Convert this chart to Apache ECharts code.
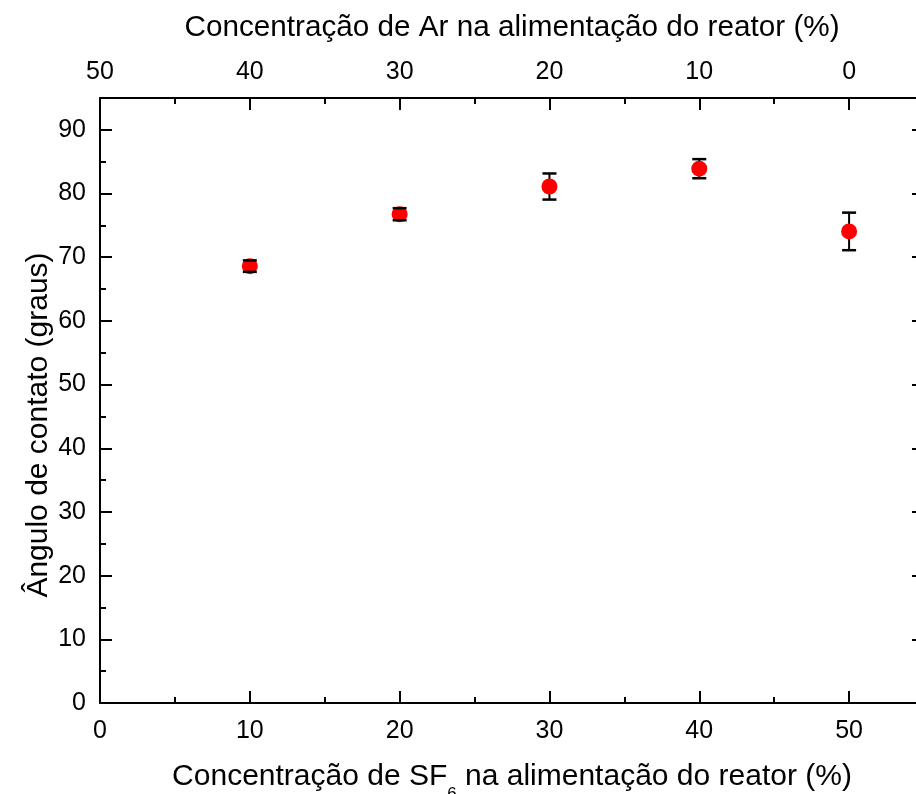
<!DOCTYPE html>
<html>
<head>
<meta charset="utf-8">
<script src="https://cdn.jsdelivr.net/npm/echarts@6/dist/echarts.min.js"></script>
<style>html,body{margin:0;padding:0;background:#fff}#c{width:916px;height:794px}</style>
</head>
<body>
<div id="c"></div>
<script>
// data
const sf6Conc = [10, 20, 30, 40, 50];
const contactAngle = [68.6, 76.75, 81.1, 83.9, 74.05];
const angleErr = [0.9, 0.95, 2.05, 1.5, 2.95];
const bottomTitle = 'Concentração de SF{s|6} na alimentação do reator (%)';
const topTitle = 'Concentração de Ar na alimentação do reator (%)';
const yTitle = 'Ângulo de contato (graus)';
const arTotal = 50; // Ar % = 50 - SF6 %

const pts = sf6Conc.map((x, i) => [x, contactAngle[i], angleErr[i]]);
const FONT = '"Liberation Sans", Arial, sans-serif';

const chart = echarts.init(document.getElementById('c'), null, {renderer: 'canvas'});

function stem(params, api) {
  const x = api.value(0), y = api.value(1), e = api.value(2);
  const p1 = api.coord([x, y + e]), p2 = api.coord([x, y - e]);
  return {type: 'line', shape: {x1: p1[0], y1: p1[1], x2: p2[0], y2: p2[1]},
    style: {stroke: '#000', lineWidth: 2}};
}
function caps(params, api) {
  const x = api.value(0), y = api.value(1), e = api.value(2);
  const p1 = api.coord([x, y + e]), p2 = api.coord([x, y - e]);
  const w = 7;
  return {type: 'group', children: [
    {type: 'line', shape: {x1: p1[0] - w, y1: p1[1], x2: p1[0] + w, y2: p1[1]}, style: {stroke: '#000', lineWidth: 2.5}},
    {type: 'line', shape: {x1: p2[0] - w, y1: p2[1], x2: p2[0] + w, y2: p2[1]}, style: {stroke: '#000', lineWidth: 2.5}}
  ]};
}

const axisCommon = {
  type: 'value', min: 0,
  axisLine: {show: true, onZero: false, lineStyle: {color: '#000', width: 2}},
  axisTick: {show: true, inside: true, length: 12, lineStyle: {color: '#000', width: 2}},
  minorTick: {show: true, splitNumber: 2, length: 6, lineStyle: {color: '#000', width: 2}},
  splitLine: {show: false},
  interval: 10
};

chart.setOption({
  animation: false,
  backgroundColor: '#fff',
  grid: {left: 100, right: -8, top: 98, bottom: 91, containLabel: false, outerBoundsMode: 'none'},
  graphic: [{
    type: 'text', x: 39, y: 425, rotation: Math.PI / 2, silent: true,
    style: {text: yTitle, fill: '#000', fontSize: 30, fontFamily: FONT, align: 'center', verticalAlign: 'middle'}
  }],
  xAxis: [
    Object.assign({}, axisCommon, {
      position: 'bottom', max: 55,
      axisLabel: {show: true, color: '#000', fontSize: 25, fontFamily: FONT, margin: 16,
        formatter: v => v > 50 ? '' : String(v)},
      name: bottomTitle, nameLocation: 'middle', nameGap: 47,
      nameTextStyle: {color: '#000', fontSize: 30, fontFamily: FONT,
        rich: {s: {fontSize: 17, fontFamily: FONT, color: '#000', padding: [36, 0, 0, 0]}}}
    }),
    Object.assign({}, axisCommon, {
      position: 'top', max: 55,
      axisLabel: {show: true, color: '#000', fontSize: 25, fontFamily: FONT, margin: 13,
        formatter: v => v > arTotal ? '' : String(arTotal - v)},
      name: topTitle, nameLocation: 'middle', nameGap: 55,
      nameTextStyle: {color: '#000', fontSize: 29.7, fontFamily: FONT}
    })
  ],
  yAxis: [
    Object.assign({}, axisCommon, {
      position: 'left', max: 95,
      axisLabel: {show: true, color: '#000', fontSize: 25, fontFamily: FONT, margin: 14,
        formatter: v => v > 90 ? '' : String(v)}
    }),
    Object.assign({}, axisCommon, {
      position: 'right', max: 95,
      axisLabel: {show: false}
    })
  ],
  series: [
    {type: 'custom', renderItem: stem, data: pts, z: 1, encode: {x: 0, y: 1}},
    {type: 'scatter', data: pts.map(p => [p[0], p[1]]), symbol: 'circle', symbolSize: 16,
      itemStyle: {color: '#ff0000', opacity: 1}, z: 2},
    {type: 'custom', renderItem: caps, data: pts, z: 3, encode: {x: 0, y: 1}}
  ]
});
</script>
</body>
</html>
